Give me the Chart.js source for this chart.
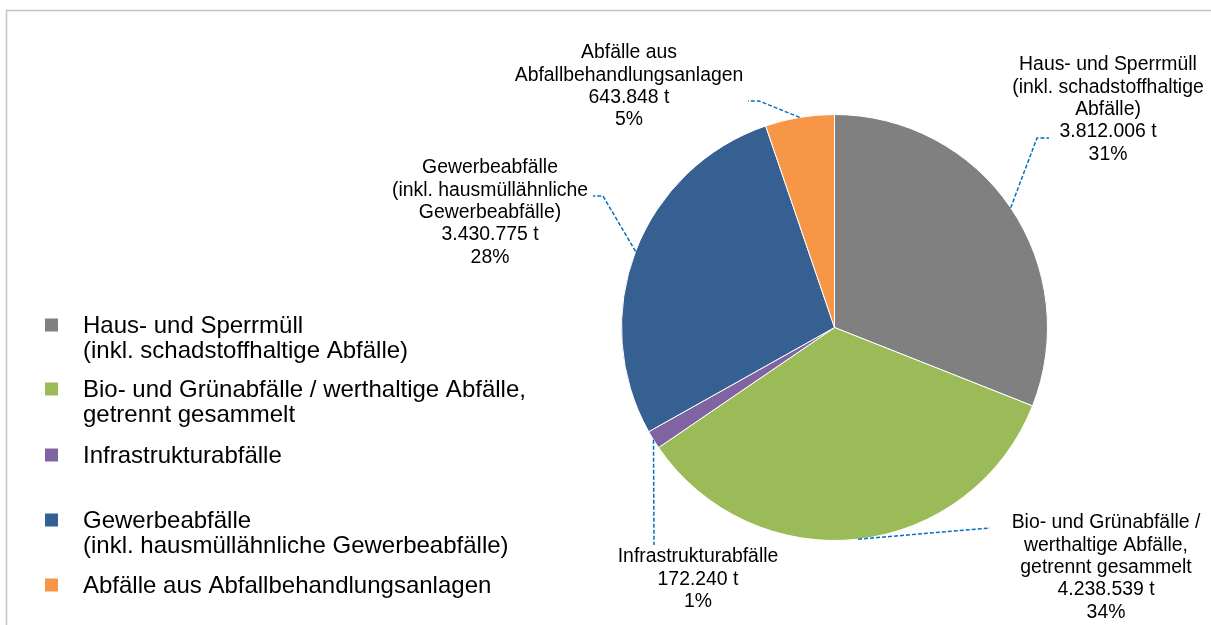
<!DOCTYPE html>
<html>
<head>
<meta charset="utf-8">
<script src="https://cdn.jsdelivr.net/npm/chart.js@4.4.0/dist/chart.umd.min.js"></script>
<style>
  html, body { margin: 0; padding: 0; background: #fff; }
  canvas { display: block; }
</style>
</head>
<body>
<canvas id="chart" width="1211" height="625"></canvas>
<script>
const categories = [
    'Haus- und Sperrmüll (inkl. schadstoffhaltige Abfälle)',
    'Bio- und Grünabfälle / werthaltige Abfälle, getrennt gesammelt',
    'Infrastrukturabfälle',
    'Gewerbeabfälle (inkl. hausmüllähnliche Gewerbeabfälle)',
    'Abfälle aus Abfallbehandlungsanlagen'
];
const tonnes = [3812006, 4238539, 172240, 3430775, 643848];
const sliceColors = ['#808080', '#9BBB59', '#8064A2', '#376092', '#F79646'];

// text as it is wrapped in the legend
const legendLabels = [
    ['Haus- und Sperrmüll', '(inkl. schadstoffhaltige Abfälle)'],
    ['Bio- und Grünabfälle / werthaltige Abfälle,', 'getrennt gesammelt'],
    ['Infrastrukturabfälle'],
    ['Gewerbeabfälle', '(inkl. hausmüllähnliche Gewerbeabfälle)'],
    ['Abfälle aus Abfallbehandlungsanlagen']
];
// text as it is wrapped next to the slices
const sliceLabelNames = [
    ['Haus- und Sperrmüll', '(inkl. schadstoffhaltige', 'Abfälle)'],
    ['Bio- und Grünabfälle /', 'werthaltige Abfälle,', 'getrennt gesammelt'],
    ['Infrastrukturabfälle'],
    ['Gewerbeabfälle', '(inkl. hausmüllähnliche', 'Gewerbeabfälle)'],
    ['Abfälle aus', 'Abfallbehandlungsanlagen']
];

const FONT = "'Liberation Sans', Arial, sans-serif";

// where the slice labels sit and how their leader lines bend
const labelSpots = [
    {x: 1108, y: 65,  path: [[1037, 138], [1049, 138]]},
    {x: 1106, y: 523, path: [[990, 528]]},
    {x: 698,  y: 557, path: [[654, 545]]},
    {x: 490,  y: 168, path: [[603, 196], [593, 196]]},
    {x: 629,  y: 53,  path: [[759, 101], [748, 101]]}
];
const legendLayout = {markerX: 45, size: 13, textX: 83, rows: [325, 389, 455, 520, 585], lineHeight: 25};

function formatTonnes(v) {
    return String(v).replace(/\B(?=(\d{3})+(?!\d))/g, '.') + ' t';
}

const framePlugin = {
    id: 'frame',
    beforeDraw(chart) {
        const ctx = chart.ctx;
        ctx.save();
        ctx.strokeStyle = '#c4c4c4';
        ctx.lineWidth = 1.5;
        ctx.beginPath();
        ctx.moveTo(6.5, 700);
        ctx.lineTo(6.5, 10.5);
        ctx.lineTo(1300, 10.5);
        ctx.stroke();
        ctx.restore();
    }
};

const legendPlugin = {
    id: 'sideLegend',
    afterDraw(chart) {
        const ctx = chart.ctx;
        const L = legendLayout;
        ctx.save();
        ctx.font = '24px ' + FONT;
        ctx.textBaseline = 'middle';
        ctx.textAlign = 'left';
        legendLabels.forEach((lines, i) => {
            const y = L.rows[i];
            ctx.fillStyle = sliceColors[i];
            ctx.fillRect(L.markerX, y - L.size / 2, L.size, L.size);
            ctx.fillStyle = '#000';
            lines.forEach((t, j) => ctx.fillText(t, L.textX, y + 1 + j * L.lineHeight));
        });
        ctx.restore();
    }
};

const sliceLabelPlugin = {
    id: 'sliceLabels',
    afterDatasetsDraw(chart) {
        const ctx = chart.ctx;
        const meta = chart.getDatasetMeta(0);
        const total = tonnes.reduce((a, b) => a + b, 0);
        ctx.save();
        meta.data.forEach((arc, i) => {
            const spot = labelSpots[i];
            const mid = (arc.startAngle + arc.endAngle) / 2;
            const sx = arc.x + Math.cos(mid) * arc.outerRadius;
            const sy = arc.y + Math.sin(mid) * arc.outerRadius;
            ctx.strokeStyle = '#0070C0';
            ctx.lineWidth = 1.5;
            ctx.setLineDash([4, 2]);
            ctx.beginPath();
            ctx.moveTo(sx, sy);
            spot.path.forEach(p => ctx.lineTo(p[0], p[1]));
            ctx.stroke();
            ctx.setLineDash([]);

            const lines = sliceLabelNames[i].concat([formatTonnes(tonnes[i]), Math.round(tonnes[i] / total * 100) + '%']);
            ctx.font = '19.4px ' + FONT;
            ctx.fillStyle = '#000';
            ctx.textAlign = 'center';
            ctx.textBaseline = 'middle';
            lines.forEach((t, j) => ctx.fillText(t, spot.x, spot.y + j * 22.3));
        });
        ctx.restore();
    }
};

new Chart(document.getElementById('chart'), {
    type: 'pie',
    data: {
        labels: categories,
        datasets: [{
            data: tonnes,
            backgroundColor: sliceColors,
            borderColor: '#ffffff',
            borderWidth: 1
        }]
    },
    options: {
        responsive: false,
        animation: false,
        layout: {padding: {left: 621, right: 163, top: 114, bottom: 84}},
        plugins: {
            legend: {display: false},
            tooltip: {enabled: false}
        }
    },
    plugins: [framePlugin, legendPlugin, sliceLabelPlugin]
});
</script>
</body>
</html>
